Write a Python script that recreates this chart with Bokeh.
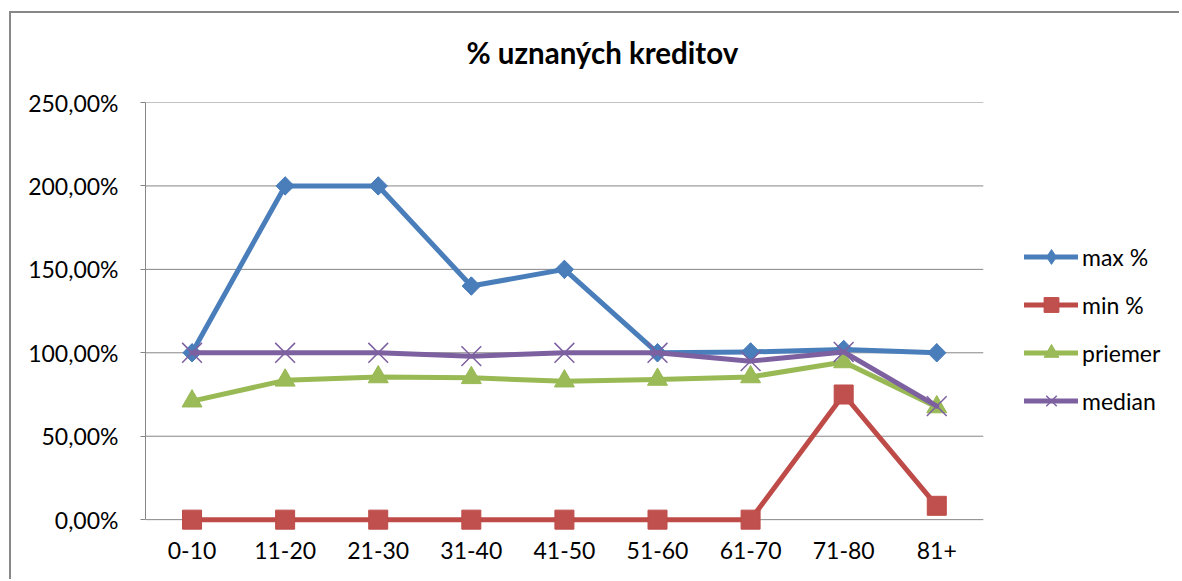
from bokeh.plotting import figure
from bokeh.models import (ColumnDataSource, FactorRange, Range1d, Legend, LegendItem,
                          CustomJSTickFormatter, FixedTicker)
from bokeh.embed import file_html
from bokeh.resources import INLINE
import math

categories = ["0-10", "11-20", "21-30", "31-40", "41-50", "51-60", "61-70", "71-80", "81+"]
max_pct = [100, 200, 200, 140, 150, 100, 100.5, 102, 100]
min_pct = [0, 0, 0, 0, 0, 0, 0, 75, 8.3]
priemer = [71, 83.5, 85.5, 85, 83, 84, 85.5, 94.5, 67.5]
median = [100, 100, 100, 98, 100, 100, 95, 100.5, 68]
y_ticks = [0, 50, 100, 150, 200, 250]

FONT = "Lato"
TICK_SIZE = "23px"

# two blank slots on the right of the category axis hold the legend inside the frame
x_factors = categories + [" ", "  "]

# y range dips slightly below 0 so markers sitting on the 0 line are not clipped
p = figure(width=1179, height=579, x_range=FactorRange(*x_factors, range_padding=0),
           y_range=Range1d(-6.5, 250), output_backend="svg", toolbar_location=None,
           min_border_left=145, min_border_right=10, min_border_top=102, min_border_bottom=49)
p.margin = (0, 0, 0, 0)
# chart-area border (left and top edges) drawn as inset shadows behind a transparent canvas
p.styles = {"box-shadow": "inset 9px 11px 0px 0px #ffffff, inset 11px 13px 0px 0px #888888"}
p.border_fill_color = None
p.outline_line_color = None
p.background_fill_color = "white"

p.title.text = "% uznaných kreditov"
p.title.align = "left"
p.title.offset = 321
p.title.text_font = FONT
p.title.text_font_size = "29.5px"
p.title.text_font_style = "bold"
p.title.text_color = "black"
p.title.standoff = 65

p.xgrid.grid_line_color = None
p.ygrid.grid_line_color = None
p.yaxis.ticker = FixedTicker(ticks=y_ticks)
p.yaxis.bounds = (0, 250)

# horizontal gridlines (incl. the 0 line acting as category axis) across the category span
grid_src = ColumnDataSource(dict(x0=[0] * len(y_ticks), x1=[len(categories)] * len(y_ticks),
                                 y=y_ticks))
p.segment(x0="x0", x1="x1", y0="y", y1="y", source=grid_src, line_color="#868686", line_width=1)

p.yaxis.formatter = CustomJSTickFormatter(code="return tick.toFixed(2).replace('.', ',') + '%';")
p.yaxis.axis_line_color = "#868686"
p.yaxis.major_tick_line_color = "#868686"
p.yaxis.major_tick_out = 5
p.yaxis.major_tick_in = 0
p.yaxis.minor_tick_line_color = None
p.yaxis.major_label_standoff = 22
p.yaxis.major_label_text_font = FONT
p.yaxis.major_label_text_font_size = TICK_SIZE
p.yaxis.major_label_text_color = "black"

p.xaxis.bounds = (0, len(categories))
p.xaxis.axis_line_color = None
p.xaxis.major_tick_line_color = None
p.xaxis.minor_tick_line_color = None
p.xaxis.major_label_standoff = 5
p.xaxis.major_label_text_font = FONT
p.xaxis.major_label_text_font_size = TICK_SIZE
p.xaxis.major_label_text_color = "black"

src = ColumnDataSource(dict(cat=categories, mx=max_pct, mn=min_pct, pr=priemer, md=median))

BLUE, RED, GREEN, PURPLE = "#4A7EBB", "#BE4B48", "#98B954", "#7D60A0"

items = []
l1 = p.line("cat", "mx", source=src, line_color=BLUE, line_width=5, line_join="round", line_cap="round")
# narrow diamond (shown in legend) sits fully under the rotated-square diamond
k1 = p.scatter("cat", "mx", source=src, marker="diamond", size=18, fill_color=BLUE, line_color=BLUE)
m1 = p.scatter("cat", "mx", source=src, marker="square", size=13, angle=math.pi / 4,
               fill_color=BLUE, line_color=BLUE)
items.append(LegendItem(label="max %", renderers=[l1, k1]))

l2 = p.line("cat", "mn", source=src, line_color=RED, line_width=5, line_join="round", line_cap="round")
m2 = p.scatter("cat", "mn", source=src, marker="square", size=19, fill_color="#C0504D", line_color=RED)
items.append(LegendItem(label="min %", renderers=[l2, m2]))

l3 = p.line("cat", "pr", source=src, line_color=GREEN, line_width=5, line_join="round", line_cap="round")
m3 = p.scatter("cat", "pr", source=src, marker="triangle", size=20, fill_color="#9BBB59", line_color=GREEN)
items.append(LegendItem(label="priemer", renderers=[l3, m3]))

l4 = p.line("cat", "md", source=src, line_color=PURPLE, line_width=5, line_join="round", line_cap="round")
m4 = p.scatter("cat", "md", source=src, marker="x", size=28, line_color=PURPLE, line_width=1.5)
items.append(LegendItem(label="median", renderers=[l4, m4]))

legend = Legend(items=items, location=(879, 111), padding=0, spacing=11, glyph_width=54,
                glyph_height=37, label_height=37, label_standoff=4,
                label_text_font=FONT, label_text_font_size=TICK_SIZE, label_text_color="black",
                border_line_color=None, background_fill_alpha=0, margin=0)
p.add_layout(legend, "center")

open("out.html", "w").write(file_html(p, INLINE))
